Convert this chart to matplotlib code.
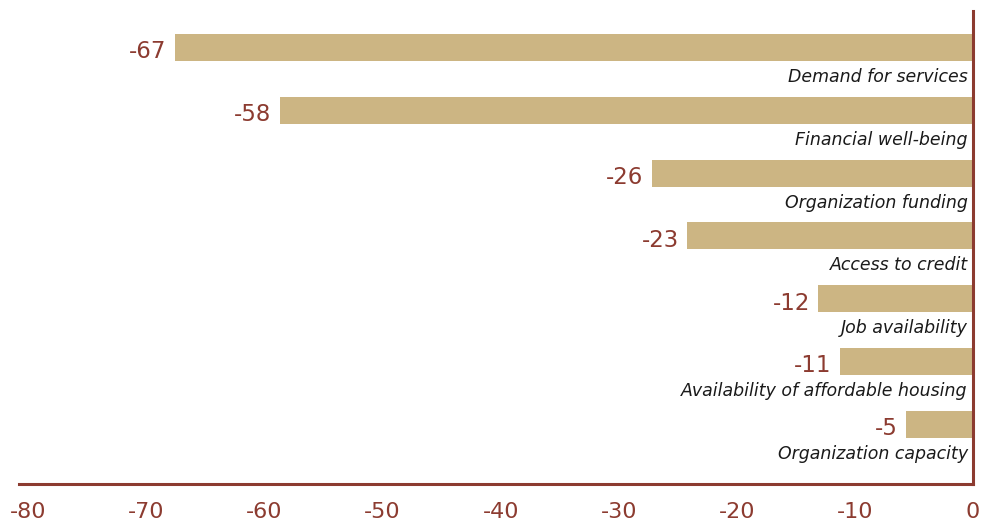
import matplotlib
matplotlib.use("Agg")
import matplotlib.pyplot as plt

# Data
categories = ["Demand for services", "Financial well-being", "Organization funding",
              "Access to credit", "Job availability",
              "Availability of affordable housing", "Organization capacity"]
values = [-67.6, -58.7, -27.2, -24.2, -13.1, -11.3, -5.7]
value_labels = ["-67", "-58", "-26", "-23", "-12", "-11", "-5"]
xticks = [-80, -70, -60, -50, -40, -30, -20, -10, 0]

bar_color = "#CCB583"
red = "#8C3B30"
plt.rcParams["font.family"] = ["DejaVu Sans"]

fig = plt.figure(figsize=(9.9, 5.25), dpi=100)
ax = fig.add_axes([19 / 990, 1 - 484 / 525, (973 - 19) / 990, (484 - 11) / 525])

ypos = list(range(len(categories)))
ax.barh(ypos, values, height=0.43, color=bar_color, zorder=2)

for y, v, lab, cat in zip(ypos, values, value_labels, categories):
    ax.text(v - 0.7, y + 0.07, lab, ha="right", va="center", fontsize=16.5, color=red)
    ax.text(-0.45, y + 0.47, cat, ha="right", va="center", fontsize=12.5,
            style="italic", color="#1a1a1a")

ax.set_xlim(-80.8, 0)
ax.set_ylim(6.95, -0.58)
ax.set_xticks(xticks)
ax.set_xticklabels([str(t) for t in xticks])
ax.set_yticks([])
ax.tick_params(axis="x", length=0, labelsize=16, labelcolor=red, pad=13)

for s in ["top", "left"]:
    ax.spines[s].set_visible(False)
ax.spines["bottom"].set_color(red)
ax.spines["bottom"].set_linewidth(2.2)
ax.spines["right"].set_color(red)
ax.spines["right"].set_linewidth(2.2)

fig.savefig("out.png", dpi=100)
